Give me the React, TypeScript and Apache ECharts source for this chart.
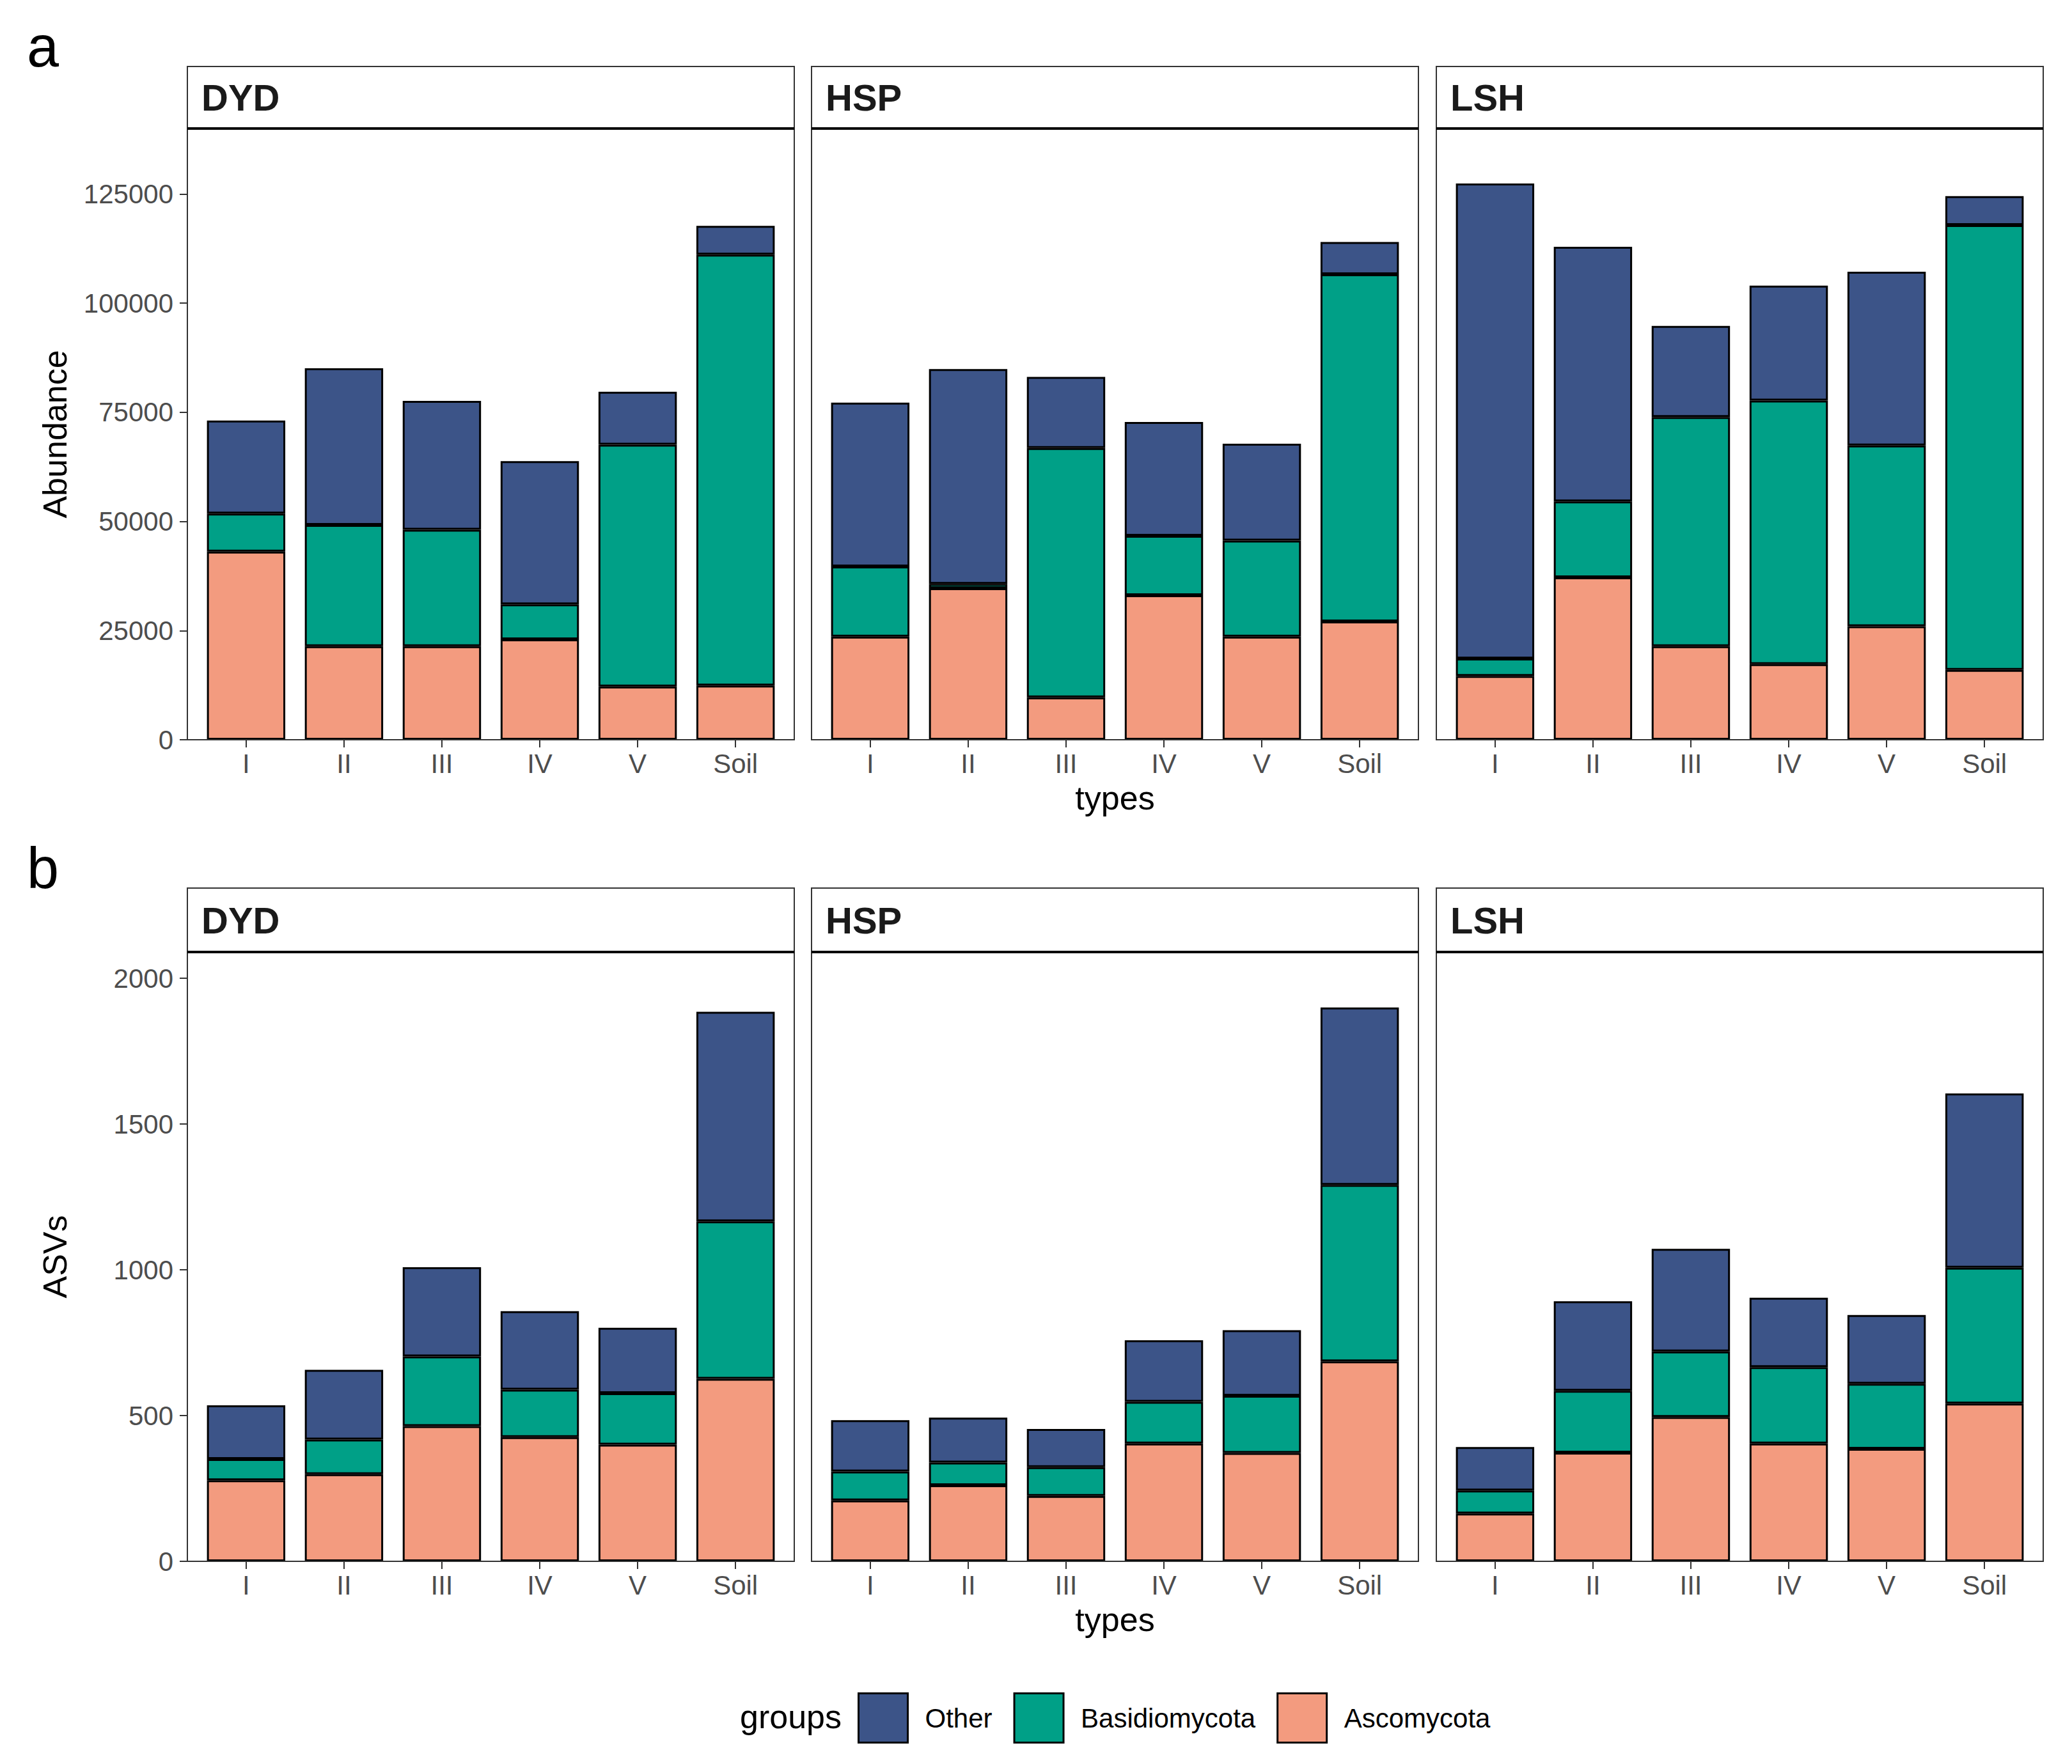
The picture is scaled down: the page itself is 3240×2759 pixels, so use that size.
import React, { useEffect, useRef } from "react";
import * as echarts from "echarts";

const categories = ["I", "II", "III", "IV", "V", "Soil"];
const sites = ["DYD", "HSP", "LSH"];
const groups = ["Other", "Basidiomycota", "Ascomycota"];
const groupColors: Record<string, string> = {
  Other: "#3C5488",
  Basidiomycota: "#00A087",
  Ascomycota: "#F39B7F",
};

// Panel a: Abundance (segments per site: DYD, HSP, LSH)
const abundanceAscomycota = [
  [43100, 21400, 21400, 23000, 12200, 12400],
  [23600, 34700, 9700, 33100, 23600, 27100],
  [14600, 37200, 21400, 17300, 26000, 16000],
];
const abundanceBasidiomycota = [
  [8700, 27800, 26700, 8000, 55400, 98700],
  [16100, 1000, 57100, 13600, 22000, 79500],
  [4000, 17400, 52500, 60400, 41400, 101900],
];
const abundanceOther = [
  [21300, 35900, 29500, 32800, 12100, 6600],
  [37500, 49200, 16300, 26100, 22200, 7400],
  [108800, 58300, 20900, 26300, 39800, 6600],
];

// Panel b: ASVs
const asvAscomycota = [
  [278, 299, 464, 426, 400, 626],
  [209, 261, 224, 404, 372, 686],
  [164, 373, 495, 404, 386, 541],
];
const asvBasidiomycota = [
  [73, 119, 239, 163, 177, 540],
  [99, 78, 99, 143, 196, 605],
  [79, 212, 225, 262, 223, 466],
];
const asvOther = [
  [184, 239, 306, 269, 224, 719],
  [176, 154, 131, 211, 225, 609],
  [149, 307, 352, 238, 236, 598],
];

const abundanceTicks = [0, 25000, 50000, 75000, 100000, 125000];
const asvTicks = [0, 500, 1000, 1500, 2000];

const FONT = "'Liberation Sans', Arial, Helvetica, sans-serif";

export default function App() {
  const ref = useRef<HTMLDivElement>(null);

  useEffect(() => {
    document.body.style.margin = "0";
    const chart = echarts.init(ref.current!, null, { renderer: "svg" });

    const panelLefts = [293, 1269, 2246];
    const panelW = 949;
    const bandPad = (panelW * 0.1) / 6.2;
    const gridW = (panelW * 6) / 6.2;

    const rows = [
      {
        label: "a",
        labelY: 73,
        stripTop: 104,
        plotTop: 201,
        plotBottom: 1157,
        max: 140000,
        ticks: abundanceTicks,
        title: "Abundance",
        data: {
          Ascomycota: abundanceAscomycota,
          Basidiomycota: abundanceBasidiomycota,
          Other: abundanceOther,
        } as Record<string, number[][]>,
      },
      {
        label: "b",
        labelY: 1358,
        stripTop: 1389,
        plotTop: 1489,
        plotBottom: 2442,
        max: 2090,
        ticks: asvTicks,
        title: "ASVs",
        data: {
          Ascomycota: asvAscomycota,
          Basidiomycota: asvBasidiomycota,
          Other: asvOther,
        } as Record<string, number[][]>,
      },
    ];

    const grid: any[] = [];
    const xAxis: any[] = [];
    const yAxis: any[] = [];
    const series: any[] = [];
    const graphic: any[] = [];

    rows.forEach((row, r) => {
      graphic.push({
        type: "text",
        x: 42,
        y: row.labelY,
        z: 100,
        style: {
          text: row.label,
          fontSize: 90,
          fontFamily: FONT,
          fill: "#000",
          verticalAlign: "middle",
        },
      });
      sites.forEach((site, s) => {
        const idx = r * 3 + s;
        const pl = panelLefts[s];
        grid.push({
          left: pl + bandPad,
          top: row.plotTop,
          width: gridW,
          height: row.plotBottom - row.plotTop,
          containLabel: false,
        });
        xAxis.push({
          type: "category",
          gridIndex: idx,
          data: categories,
          axisLine: { show: false },
          axisTick: {
            show: true,
            alignWithLabel: true,
            length: 12,
            lineStyle: { color: "#333333", width: 2 },
          },
          axisLabel: {
            interval: 0,
            margin: 16,
            fontSize: 42,
            color: "#4D4D4D",
            fontFamily: FONT,
          },
          name: s === 1 ? "types" : "",
          nameLocation: "middle",
          nameGap: 65,
          nameTextStyle: { fontSize: 52, color: "#000", fontFamily: FONT },
        });
        yAxis.push({
          type: "value",
          gridIndex: idx,
          min: 0,
          max: row.max,
          offset: s === 0 ? bandPad : 0,
          splitLine: { show: false },
          axisLine: { show: false },
          axisTick: {
            show: s === 0,
            length: 12,
            lineStyle: { color: "#333333", width: 2 },
            customValues: row.ticks,
          },
          axisLabel: {
            show: s === 0,
            customValues: row.ticks,
            formatter: (v: number) => String(v),
            margin: 22,
            fontSize: 42,
            color: "#4D4D4D",
            fontFamily: FONT,
          },
          name: s === 0 ? row.title : "",
          nameLocation: "middle",
          nameGap: 181,
          nameTextStyle: { fontSize: 52, color: "#000", fontFamily: FONT },
        });
        ["Ascomycota", "Basidiomycota", "Other"].forEach((g) => {
          series.push({
            type: "bar",
            name: g,
            xAxisIndex: idx,
            yAxisIndex: idx,
            stack: "stack" + idx,
            barWidth: "80%",
            data: row.data[g][s],
            itemStyle: {
              color: groupColors[g],
              borderColor: "#000",
              borderWidth: 3,
            },
            emphasis: { disabled: true },
          });
        });
        // strip
        graphic.push({
          type: "rect",
          z: 50,
          shape: {
            x: pl,
            y: row.stripTop,
            width: panelW,
            height: row.plotTop - row.stripTop,
          },
          style: { fill: "#FFFFFF", stroke: "#333333", lineWidth: 2 },
        });
        graphic.push({
          type: "text",
          z: 60,
          x: pl + 22,
          y: (row.stripTop + row.plotTop) / 2,
          style: {
            text: site,
            fontSize: 58,
            fontWeight: "bold",
            fontFamily: FONT,
            fill: "#1A1A1A",
            verticalAlign: "middle",
          },
        });
        // panel border
        graphic.push({
          type: "rect",
          z: 50,
          shape: {
            x: pl,
            y: row.plotTop,
            width: panelW,
            height: row.plotBottom - row.plotTop,
          },
          style: { fill: "transparent", stroke: "#333333", lineWidth: 2 },
        });
        graphic.push({
          type: "line",
          z: 55,
          shape: { x1: pl, y1: row.plotTop, x2: pl + panelW, y2: row.plotTop },
          style: { stroke: "#000", lineWidth: 4 },
        });
      });
    });

    graphic.push({
      type: "text",
      z: 100,
      x: 1157,
      y: 2685,
      style: {
        text: "groups",
        fontSize: 52,
        fontFamily: FONT,
        fill: "#000",
        verticalAlign: "middle",
      },
    });

    chart.setOption({
      animation: false,
      backgroundColor: "#FFFFFF",
      grid,
      xAxis,
      yAxis,
      series,
      graphic,
      legend: {
        data: groups,
        left: 1336,
        top: 2642,
        orient: "horizontal",
        icon: "rect",
        itemWidth: 77,
        itemHeight: 77,
        itemGap: 33,
        selectedMode: false,
        itemStyle: { borderColor: "#000", borderWidth: 3 },
        textStyle: {
          fontSize: 42,
          color: "#000",
          fontFamily: FONT,
          padding: [0, 0, 0, 22],
        },
      },
    });

    return () => chart.dispose();
  }, []);

  return (
    <div
      ref={ref}
      style={{ position: "absolute", left: 0, top: 0, width: 3240, height: 2759 }}
    />
  );
}
